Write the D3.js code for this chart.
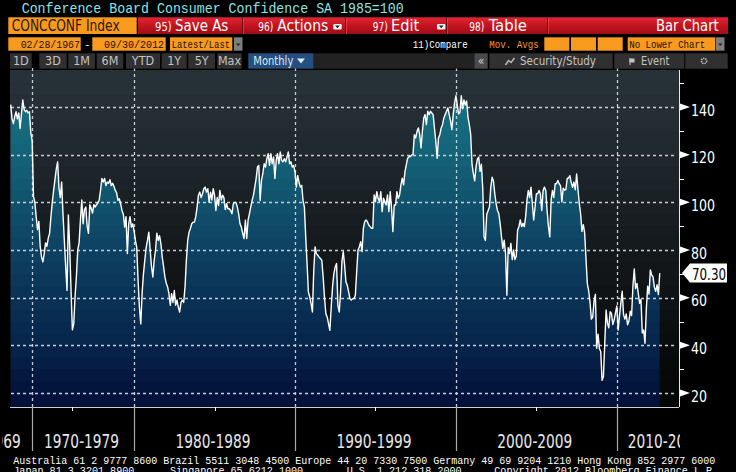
<!DOCTYPE html>
<html>
<head>
<meta charset="utf-8">
<script src="https://cdn.jsdelivr.net/npm/d3@7/dist/d3.min.js"></script>
<style>
html, body { margin: 0; padding: 0; background: #000; }
svg { display: block; }
</style>
</head>
<body>
<svg id="chart" width="736" height="472"></svg>
<script>

// Conference Board Consumer Confidence SA 1985=100, one value per observation.
// bi-monthly until 1977, monthly afterwards (Bloomberg plots by observation)
var values1967to1969 = [141, 135, 133, 136, 138, 135, 137.5, 131, 137, 143, 139, 138, 138.6, 137.5, 138, 129];
var values1970s = [126, 102.5, 100, 94, 88.5, 92, 81.5, 77, 75, 78.5, 83, 81.5, 85, 87,
	94, 100, 105, 109.5, 114, 117, 106, 102, 108.5, 95, 84, 73, 63, 94.7, 81.5, 63,
	46.5, 49, 60.5, 69, 80, 83, 92.7, 101, 91, 97, 98, 90, 87, 99, 97.5, 95.5,
	99, 98, 99, 99.7, 101, 105, 110, 108.5, 110, 107, 108.5, 108, 109.5, 107, 108, 106.7,
	105, 104, 100.8, 101.5, 99.4, 96.6, 95, 89.6, 94, 78.5, 91, 94, 89.6, 91];
var values1980s = [88, 84, 81, 67, 56, 49, 62, 70, 75.7, 81, 84, 87.5,
	80, 73, 68.7, 75.7, 80, 87, 84, 86, 82.7, 77, 73, 68.7,
	66, 64.5, 61.7, 56.8, 61.7, 58, 63, 56.8, 59, 56, 54, 58,
	59, 58, 64.5, 75.7, 84, 87.5, 89, 91, 91.7, 91.7, 94, 98,
	103, 104.3, 102, 103.6, 105.7, 106.4, 104.3, 105.7, 100, 104.3, 101, 105.7,
	103, 96.6, 102, 98.7, 105, 101, 103, 102, 97, 99.4, 97.3, 97.3,
	96.6, 95.2, 99.4, 100, 100, 98, 95.2, 91, 89.6, 86.9, 84.8, 92.5,
	84.8, 92.5, 95.2, 98, 100.8, 102.9, 106.4, 109.9, 114.8, 115.5, 100.8, 109.2,
	112, 116.2, 114.8, 118.3, 120.4, 115.5, 120.4, 116.2, 119, 110, 117.6, 120.4,
	116.2, 121.1, 117.6, 117, 118.3, 117, 119, 121.1, 116.2, 117, 114.8, 115.5];
var values1990s = [112.7, 106.4, 111.3, 108.5, 106.4, 107.1, 100.8, 98, 85.5, 74.3, 62.4, 60.3,
	57.5, 54, 71.5, 81.3, 78.5, 77.8, 77, 76.4, 75.7, 68.7, 60.3, 53.3,
	51.9, 49.1, 46.3, 56.1, 64.5, 70.1, 72.9, 74.3, 56.8, 54, 62.4, 75.1,
	79.3, 73.7, 66.6, 65.2, 62.4, 59.6, 59, 59.6, 59.6, 61, 70.8, 80,
	81.4, 83.5, 79.3, 89.1, 91.9, 92.6, 91.9, 90.5, 89.8, 89.1, 89.1, 103.1,
	100.3, 104.5, 101.7, 100.3, 104.5, 96.1, 101.7, 100.3, 98.9, 103.1, 96.1, 104.5,
	97.5, 87.7, 98.9, 98.9, 104.5, 101.7, 103.1, 107.3, 110.1, 107.3, 112.9, 115.7,
	118.5, 119.2, 119.2, 119.9, 119.9, 128.4, 127, 129.8, 131.2, 128.4, 122.8, 129.8,
	135.4, 136.8, 132.6, 138.2, 136.8, 138.2, 137.5, 136.8, 131.2, 125.6, 118.5, 127,
	128.4, 131.2, 132.6, 135.4, 136.8, 138.2, 139.6, 136.8, 134.2, 130.5, 137, 141.7];
var values2000s = [144.7, 140.8, 137.1, 137.7, 144.7, 139.2, 143, 140.8, 142.5, 135.8, 132.6, 128.6,
	116, 112, 109, 115, 118, 119, 113, 116, 106, 85.5, 84, 95,
	96.5, 98, 106.4, 110.5, 109, 103.6, 99.4, 96.6, 95.2, 91, 85.5, 80.7,
	84.1, 78.5, 61, 81, 78.5, 82.8, 76, 80, 76, 77.4, 88.4, 89.8,
	92.6, 89.8, 91.2, 89.8, 94, 101, 105, 102, 106.4, 99.4, 92.6, 98,
	103.6, 103.6, 105, 103.6, 96.6, 105, 106.4, 105, 96.6, 89.8, 85.5, 101,
	105, 102, 107.8, 107.8, 109.2, 107.8, 107, 100.2, 105.9, 105.1, 105.3, 110,
	110.2, 111.2, 108.2, 106.3, 108.5, 105.3, 111.9, 105.6, 99.5, 95.2, 87.8, 90.6,
	87.3, 76.4, 65.9, 62.8, 58.1, 51, 51.9, 58.5, 61.4, 38.8, 44.7, 38.6,
	37.4, 25.3, 26.9, 40.8, 54.8, 49.3, 47.4, 54.1, 53.4, 48.7, 50.6, 53.6];
var values2010s = [56.5, 46.4, 52.3, 57.7, 62.7, 52.9, 51, 53.2, 48.6, 50.2, 54.3, 52.5,
	64.8, 72, 63.8, 66, 61.7, 57.6, 59.2, 45.2, 46.4, 40.9, 55.2, 64.8,
	61.5, 71.6, 69.5, 68.7, 64.4, 62.7, 65.4, 61.3, 70.3];

var decadeLabels = ["1960-1969", "1970-1979", "1980-1989", "1990-1999", "2000-2009", "2010-2019"];
var midDecadeObs = [46, 152, 272, 392];
var yTicks = [20, 40, 60, 80, 100, 120, 140];
var yMinorTicks = [30, 50, 70, 90, 110, 130, 150];
var lastValueText = "70.30";

var footerLine1 = "Australia 61 2 9777 8600 Brazil 5511 3048 4500 Europe 44 20 7330 7500 Germany 49 69 9204 1210 Hong Kong 852 2977 6000";
var footerLine2 = ["Japan 81 3 3201 8900", "Singapore 65 6212 1000", "U.S. 1 212 318 2000", "Copyright 2012 Bloomberg Finance L.P."];


var decades = [values1967to1969, values1970s, values1980s, values1990s, values2000s, values2010s];
var confidence = [].concat.apply([], decades);

var narrow = "'Liberation Sans Narrow', 'DejaVu Sans Condensed', 'Liberation Sans', sans-serif";
var mono = "'Liberation Mono', 'DejaVu Sans Mono', monospace";

var svg = d3.select("#chart");

var PLOT = { left: 10, right: 679, top: 70, bottom: 407 };

var x = d3.scaleLinear()
	.domain([0, confidence.length - 1])
	.range([10.7, 10.7 + 1.341 * (confidence.length - 1)]);
var y = d3.scaleLinear().domain([20, 140]).range([393, 107]);

function txt(g, px, py, s, o) {
	o = o || {};
	var t = g.append("text")
		.attr("x", px).attr("y", py)
		.attr("fill", o.fill || "#fff")
		.attr("font-family", o.font || narrow)
		.attr("font-size", o.size || 14)
		.attr("text-anchor", o.anchor || "start")
		.text(s);
	if (o.width) t.attr("textLength", o.width).attr("lengthAdjust", "spacingAndGlyphs");
	return t;
}

svg.append("rect").attr("width", 736).attr("height", 472).attr("fill", "#000");

var defs = svg.append("defs");
defs.append("clipPath").attr("id", "plotClip")
	.append("rect")
	.attr("x", PLOT.left).attr("y", PLOT.top)
	.attr("width", PLOT.right - PLOT.left).attr("height", PLOT.bottom - PLOT.top);

var area = d3.area()
	.x(function(d, i) { return x(i); })
	.y0(PLOT.bottom)
	.y1(function(d) { return y(d); });

defs.append("clipPath").attr("id", "areaClip")
	.append("path").attr("d", area(confidence));

// banded backgrounds (stepped gradient like the terminal)
var bgColor = d3.scaleLinear()
	.domain([10, 35, 55, 75, 95, 115, 135, 160])
	.range(["#040404", "#08090a", "#0e1113", "#13171a", "#181e22", "#1e262b", "#232d33", "#28343a"]);
var fillColor = d3.scaleLinear()
	.domain([10, 25, 40, 60, 80, 100, 120, 140, 160])
	.range(["#020e35", "#04163e", "#07244b", "#0a3255", "#0d4161", "#11526d", "#146278", "#166f80", "#177584"]);

var bands = d3.range(10, 160, 5);

var plotG = svg.append("g").attr("clip-path", "url(#plotClip)");

plotG.selectAll("rect.bg")
	.data(bands)
	.enter().append("rect")
	.attr("class", "bg")
	.attr("x", PLOT.left).attr("width", PLOT.right - PLOT.left)
	.attr("y", function(v) { return y(v + 5); })
	.attr("height", function(v) { return y(v) - y(v + 5) + 0.5; })
	.attr("fill", function(v) { return bgColor(v + 2.5); });

plotG.append("g").attr("clip-path", "url(#areaClip)")
	.selectAll("rect")
	.data(bands)
	.enter().append("rect")
	.attr("x", PLOT.left).attr("width", PLOT.right - PLOT.left)
	.attr("y", function(v) { return y(v + 5); })
	.attr("height", function(v) { return y(v) - y(v + 5) + 0.5; })
	.attr("fill", function(v) { return fillColor(v + 2.5); });

var decadeStart = [];
var acc = 0;
decades.forEach(function(d) { decadeStart.push(acc); acc += d.length; });
var decadeLines = decadeStart.slice(1);

// dotted grid: short dashes built as explicit path segments
var GRID = "#c6ced6";
function hDashes(yy) {
	return d3.range(PLOT.left + 1, PLOT.right - 2, 6)
		.map(function(px) { return "M" + px + " " + yy + "h3"; }).join("");
}
function vDashes(px) {
	return d3.range(PLOT.top - 2, PLOT.bottom - 2, 6)
		.map(function(py) { return "M" + px + " " + py + "v3"; }).join("");
}
var gridG = svg.append("g");
gridG.selectAll("path.hgrid")
	.data(yTicks)
	.enter().append("path")
	.attr("class", "hgrid")
	.attr("d", function(v) { return hDashes(Math.round(y(v)) + 0.5); })
	.attr("fill", "none")
	.attr("stroke", GRID)
	.attr("stroke-width", 1.3);
gridG.selectAll("path.vgrid")
	.data(decadeLines)
	.enter().append("path")
	.attr("class", "vgrid")
	.attr("d", function(i) { return vDashes(Math.round(x(i)) + 0.5); })
	.attr("fill", "none")
	.attr("stroke", GRID)
	.attr("stroke-width", 1.3);

svg.append("path")
	.attr("clip-path", "url(#plotClip)")
	.attr("d", d3.line().x(function(d, i) { return x(i); }).y(function(d) { return y(d); })(confidence))
	.attr("fill", "none")
	.attr("stroke", "#ffffff")
	.attr("stroke-width", 1.4)
	.attr("stroke-linejoin", "round");

// axes
svg.append("line")
	.attr("x1", PLOT.right + 0.5).attr("x2", PLOT.right + 0.5)
	.attr("y1", PLOT.top).attr("y2", PLOT.bottom)
	.attr("stroke", "#e8e8e8");
svg.append("line")
	.attr("x1", PLOT.left).attr("x2", PLOT.right)
	.attr("y1", PLOT.bottom + 0.5).attr("y2", PLOT.bottom + 0.5)
	.attr("stroke", "#d0d0d0");

var yAxisG = svg.append("g");
yAxisG.selectAll("path.tick")
	.data(yTicks)
	.enter().append("path")
	.attr("class", "tick")
	.attr("d", function(v) {
		var ty = y(v);
		return "M" + (PLOT.right + 1) + " " + (ty - 3.5) + "L" + (PLOT.right + 11) + " " + ty + "L" + (PLOT.right + 1) + " " + (ty + 3.5) + "Z";
	})
	.attr("fill", "#fff");
yAxisG.selectAll("line.minor")
	.data(yMinorTicks)
	.enter().append("line")
	.attr("class", "minor")
	.attr("x1", PLOT.right).attr("x2", PLOT.right + 5)
	.attr("y1", function(v) { return Math.round(y(v)) + 0.5; })
	.attr("y2", function(v) { return Math.round(y(v)) + 0.5; })
	.attr("stroke", "#fff");
yAxisG.selectAll("text")
	.data(yTicks)
	.enter().append("text")
	.attr("x", PLOT.right + 12)
	.attr("y", function(v) { return y(v) + 8.5; })
	.attr("fill", "#fff")
	.attr("font-family", narrow)
	.attr("font-size", 16)
	.attr("textLength", function(v) { return String(v).length * 8; })
	.attr("lengthAdjust", "spacingAndGlyphs")
	.text(function(v) { return v; });

// last value flag
var lastY = y(confidence[confidence.length - 1]);
svg.append("path")
	.attr("d", "M" + (PLOT.right + 3) + " " + lastY +
		"L" + (PLOT.right + 11) + " " + (lastY - 9.5) +
		"L" + 727 + " " + (lastY - 9.5) +
		"L" + 727 + " " + (lastY + 9.5) +
		"L" + (PLOT.right + 11) + " " + (lastY + 9.5) + "Z")
	.attr("fill", "#fff");
txt(svg, PLOT.right + 13, lastY + 7, lastValueText, { fill: "#000", size: 16, width: 34 });

// x axis: decade separators, mid-decade ticks, decade labels
svg.selectAll("line.sep")
	.data(decadeLines)
	.enter().append("line")
	.attr("class", "sep")
	.attr("x1", function(i) { return Math.round(x(i)) + 0.5; })
	.attr("x2", function(i) { return Math.round(x(i)) + 0.5; })
	.attr("y1", PLOT.bottom).attr("y2", 451)
	.attr("stroke", "#a8a8a8").attr("stroke-width", 1.2);
svg.selectAll("line.mid")
	.data(midDecadeObs)
	.enter().append("line")
	.attr("class", "mid")
	.attr("x1", function(i) { return Math.round(x(i)) + 0.5; })
	.attr("x2", function(i) { return Math.round(x(i)) + 0.5; })
	.attr("y1", PLOT.bottom).attr("y2", PLOT.bottom + 4)
	.attr("stroke", "#fff");

defs.append("clipPath").attr("id", "labelClip")
	.append("rect").attr("x", 2).attr("y", 420).attr("width", PLOT.right - 1).attr("height", 40);
var decG = svg.append("g").attr("clip-path", "url(#labelClip)");
decadeLabels.forEach(function(s, k) {
	var opt = { fill: "#e6e6e6", size: 19, width: 75 };
	if (k === 0) {
		opt.anchor = "end";
		txt(decG, x(decadeStart[1]) - 11.5, 448, s, opt);
	} else if (k === decadeLabels.length - 1) {
		txt(decG, x(decadeStart[k]) + 11, 448, s, opt);
	} else {
		opt.anchor = "middle";
		txt(decG, (x(decadeStart[k]) + x(decadeStart[k + 1])) / 2 - 1.5, 448, s, opt);
	}
});

// footer
txt(svg, 13.3, 463.5, footerLine1, { font: mono, size: 11, width: 702 });
[13.3, 170, 346.7, 494.3].forEach(function(px, k) {
	txt(svg, px, 474, footerLine2[k], { font: mono, size: 11, width: footerLine2[k].length * 6.05 });
});

// ---------- terminal header ----------
var head = svg.append("g");
txt(head, 21.7, 13, "Conference Board Consumer Confidence SA 1985=100",
	{ font: mono, size: 15, fill: "#8fe3e0", width: 382 });

var redGrad = defs.append("linearGradient").attr("id", "redGrad")
	.attr("x1", 0).attr("y1", 0).attr("x2", 0).attr("y2", 1);
redGrad.append("stop").attr("offset", 0).attr("stop-color", "#e12634");
redGrad.append("stop").attr("offset", 0.5).attr("stop-color", "#c4141f");
redGrad.append("stop").attr("offset", 1).attr("stop-color", "#9c0d16");

var ORANGE = "#f89a1e";

head.append("rect").attr("x", 8.3).attr("y", 17.3).attr("width", 128.4).attr("height", 16.7).attr("fill", ORANGE);
txt(head, 11.7, 30.7, "CONCCONF Index", { fill: "#2a1800", size: 15, width: 108 });

head.append("rect").attr("x", 138).attr("y", 17.3).attr("width", 590).attr("height", 16.7).attr("fill", "url(#redGrad)");
[242, 345, 446, 547].forEach(function(px) {
	head.append("line").attr("x1", px + 0.5).attr("x2", px + 0.5).attr("y1", 17.3).attr("y2", 34)
		.attr("stroke", "#6e070d").attr("stroke-width", 1);
	head.append("line").attr("x1", px + 1.5).attr("x2", px + 1.5).attr("y1", 17.3).attr("y2", 34)
		.attr("stroke", "#e8505a").attr("stroke-width", 0.6);
});
var redButtons = [
	{ num: "95)", nx: 155, nw: 16.7, label: "Save As", lx: 175, lw: 53.3 },
	{ num: "96)", nx: 258.3, nw: 15, label: "Actions", lx: 277.3, lw: 51 },
	{ num: "97)", nx: 372.7, nw: 15, label: "Edit", lx: 391, lw: 28.3 },
	{ num: "98)", nx: 469.3, nw: 15, label: "Table", lx: 488.7, lw: 38.3 }
];
redButtons.forEach(function(b) {
	txt(head, b.nx, 30.7, b.num, { size: 13, width: b.nw });
	txt(head, b.lx, 30.7, b.label, { size: 15, width: b.lw });
});
txt(head, 656, 30.7, "Bar Chart", { size: 15, width: 62.7 });
[333.3, 437].forEach(function(px) {
	head.append("rect").attr("x", px).attr("y", 24).attr("width", 8.4).attr("height", 5.5).attr("rx", 1).attr("fill", "#f2f2f2");
	head.append("path").attr("d", "M" + (px + 1.8) + " 25.6L" + (px + 6.6) + " 25.6L" + (px + 4.2) + " 28.2Z").attr("fill", "#222");
});

// row 3 : dates and studies
var row3 = [
	{ x: 8.3, w: 72.4, t: "02/28/1967", tx: 20.7, tw: 59.3 },
	{ x: 92.3, w: 73.4, t: "09/30/2012", tx: 104, tw: 60 },
	{ x: 170, w: 62.3, t: "Latest/Last", tx: 171.7, tw: 58.3 },
	{ x: 544.3, w: 25, t: "" },
	{ x: 571, w: 25, t: "" },
	{ x: 597.7, w: 25, t: "" },
	{ x: 627.7, w: 87.6, t: "No Lower Chart", tx: 629.3, tw: 76 }
];
row3.forEach(function(b) {
	head.append("rect").attr("x", b.x).attr("y", 37.3).attr("width", b.w).attr("height", 13.4).attr("fill", ORANGE);
	if (b.t) txt(head, b.tx, 48, b.t, { font: mono, size: 10.5, fill: "#1a1000", width: b.tw });
});
txt(head, 87.3, 47.5, "-", { font: mono, size: 10, fill: "#fff", anchor: "middle" });
[234, 716].forEach(function(px) {
	head.append("rect").attr("x", px).attr("y", 37.3).attr("width", 8.5).attr("height", 13.4).attr("fill", "#7d7d7d");
	head.append("path").attr("d", "M" + (px + 2) + " 43.5L" + (px + 6.5) + " 43.5L" + (px + 4.25) + " 46Z").attr("fill", "#222");
});
txt(head, 412.7, 48, "11)Compare", { font: mono, size: 10.5, fill: "#fff", width: 55 });
txt(head, 489.3, 48, "Mov. Avgs", { font: mono, size: 10.5, fill: ORANGE, width: 49.4 });

// row 4 : period buttons
head.append("rect").attr("x", 313).attr("y", 53.3).attr("width", 161).attr("height", 15.4).attr("fill", "#222");
var periodButtons = [
	{ t: "1D", x0: 10, x1: 31.7 }, { t: "3D", x0: 39.3, x1: 66.7 }, { t: "1M", x0: 68.3, x1: 95 },
	{ t: "6M", x0: 96.7, x1: 123.3 }, { t: "YTD", x0: 126, x1: 160 }, { t: "1Y", x0: 161.7, x1: 186.7 },
	{ t: "5Y", x0: 188.3, x1: 215 }, { t: "Max", x0: 217.3, x1: 241.7 }
];
periodButtons.forEach(function(b) {
	head.append("rect").attr("x", b.x0).attr("y", 53.3).attr("width", b.x1 - b.x0).attr("height", 15.4).attr("fill", "#303030");
	txt(head, (b.x0 + b.x1) / 2, 64.5, b.t, { size: 12.5, fill: "#c4c4c4", anchor: "middle" });
});
head.append("rect").attr("x", 248.3).attr("y", 53.3).attr("width", 65).attr("height", 15.4).attr("fill", "#244f7e");
txt(head, 253.3, 64.5, "Monthly", { size: 12.5, fill: "#dfe9f5", width: 40 });
head.append("path").attr("d", "M297 58.5L305 58.5L301 63.5Z").attr("fill", "#dfe9f5");

var rightButtons = [
	{ x0: 474.3, x1: 487.7, fill: "#4a4a4a" },
	{ x0: 489.3, x1: 612.7, fill: "#303030" },
	{ x0: 614.3, x1: 684.3, fill: "#303030" },
	{ x0: 685.3, x1: 727.7, fill: "#303030" }
];
rightButtons.forEach(function(b) {
	head.append("rect").attr("x", b.x0).attr("y", 53.3).attr("width", b.x1 - b.x0).attr("height", 15.4).attr("fill", b.fill);
});
txt(head, 481, 64.5, "\u00ab", { size: 12, fill: "#d0d0d0", anchor: "middle" });
head.append("path").attr("d", "M505.5 65L508.5 60.5L511 62.5L514.5 58").attr("fill", "none").attr("stroke", "#bbb").attr("stroke-width", 1.5);
txt(head, 520, 64.5, "Security/Study", { size: 12.5, fill: "#c4c4c4", width: 76 });
head.append("rect").attr("x", 629.5).attr("y", 58.5).attr("width", 5).attr("height", 4).attr("fill", "#c4c4c4");
head.append("line").attr("x1", 630).attr("x2", 630).attr("y1", 58).attr("y2", 65).attr("stroke", "#c4c4c4");
txt(head, 641, 64.5, "Event", { size: 12.5, fill: "#c4c4c4", width: 28.3 });
head.append("circle").attr("cx", 704).attr("cy", 61).attr("r", 2.6)
	.attr("fill", "none").attr("stroke", "#bbb").attr("stroke-width", 1.6).attr("stroke-dasharray", "1.4,0.8");

</script>
</body>
</html>
